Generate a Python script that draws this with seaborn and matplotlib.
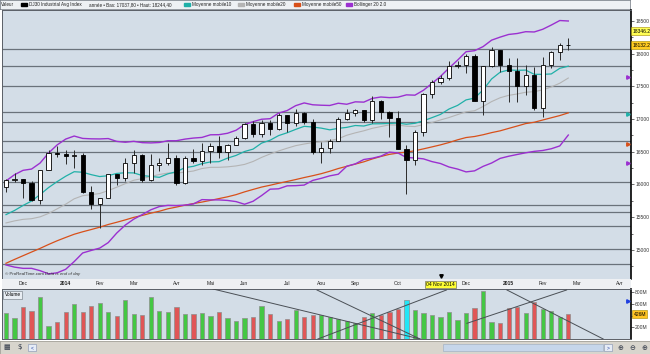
import matplotlib
matplotlib.use("Agg")
import numpy as np
import pandas as pd
import matplotlib.pyplot as plt
import matplotlib.patches as mpatches
import matplotlib.transforms as mtrans
import seaborn as sns

plt.rcParams['font.family'] = ['Liberation Sans', 'DejaVu Sans']

# closes des semaines avant la fenetre (pour les moyennes mobiles)
history_close = [13025.6, 13155.1, 13135.0, 13190.8, 12938.1,
                 13435.2, 13488.4, 13649.7, 13896.0,
                 14009.8, 13993.0, 13981.8, 14000.6,
                 14089.7, 14397.1, 14514.1, 14512.0, 14578.5,
                 14565.3, 14865.1, 14547.5, 14712.6,
                 14974.0, 15118.5, 15354.4, 15303.1, 15115.6,
                 15248.1, 15070.2, 14799.4, 14909.6,
                 15135.8, 15464.3, 15543.7, 15558.8,
                 15658.4, 15425.5, 15081.5, 15010.5, 14810.3,
                 14922.5, 15376.1, 15451.1, 15258.2,
                 15072.6, 15237.1, 15399.7, 15570.3,
                 15615.6, 15761.8, 15961.7]

# DJ30 hebdo, semaine du 18 nov 2013 au 23 fev 2015
first_week = '2013-11-18'
opens = [15961.7, 16064.8, 16086.4, 16020.2, 15755.4, 16221.1, 16478.4, 16470.0, 16437.1, 16458.6,
         15879.1, 15698.9, 15794.1, 16154.4, 16103.3, 16321.7, 16452.7, 16065.7, 16302.8, 16323.1,
         16412.7, 16026.8, 16408.5, 16361.5, 16512.9, 16583.3, 16491.3, 16606.3, 16717.2, 16924.3,
         16775.7, 16947.1, 16851.8, 17068.3, 16943.8, 17100.2, 16960.6, 16493.4, 16553.9, 16662.9,
         17001.2, 17098.5, 17137.4, 16987.5, 17279.7, 17113.2, 17009.7, 16544.1, 16380.4, 16805.4,
         17390.5, 17573.9, 17634.7, 17810.1, 17828.2, 17958.8, 17280.8, 17804.8, 18053.7, 17833.0,
         17737.4, 17511.6, 17672.6, 17165.0, 17824.3, 18019.4, 18140.4]
highs = [16080, 16174, 16087, 16050, 16226, 16530, 16588, 16530, 16530, 16484,
         15983, 15800, 16160, 16160, 16400, 16530, 16460, 16460, 16400, 16631,
         16450, 16430, 16540, 16630, 16630, 16735, 16620, 16735, 16940, 16970,
         16980, 16980, 17090, 17070, 17151, 17110, 17000, 16650, 16700, 17030,
         17150, 17160, 17140, 17350, 17290, 17130, 17130, 16600, 16830, 17400,
         17600, 17680, 17895, 17890, 17991, 17990, 17810, 18103, 18060, 17930,
         17930, 17830, 17800, 17950, 18040, 18170, 18244]
lows = [15880, 16036, 15800, 15740, 15703, 16220, 16416, 16314, 16250, 15870,
        15631, 15340, 15790, 15990, 16060, 16180, 16040, 16060, 16210, 16300,
        15990, 16015, 16330, 16300, 16330, 16410, 16370, 16600, 16700, 16730,
        16730, 16750, 16830, 16800, 16900, 16920, 16460, 16333, 16480, 16660,
        16990, 17050, 16950, 16940, 17000, 16730, 16540, 15855, 16300, 16740,
        17330, 17530, 17600, 17780, 17700, 17270, 17068, 17800, 17720, 17262,
        17265, 17370, 17140, 17038, 17780, 17910, 18060]
closes = [16064.8, 16086.4, 16020.2, 15755.4, 16221.1, 16478.4, 16470.0, 16437.1, 16458.6, 15879.1,
          15698.9, 15794.1, 16154.4, 16103.3, 16321.7, 16452.7, 16065.7, 16302.8, 16323.1, 16412.7,
          16026.8, 16408.5, 16361.5, 16512.9, 16583.3, 16491.3, 16606.3, 16717.2, 16924.3, 16775.7,
          16947.1, 16851.8, 17068.3, 16943.8, 17100.2, 16960.6, 16493.4, 16553.9, 16662.9, 17001.2,
          17098.5, 17137.4, 16987.5, 17279.7, 17113.2, 17009.7, 16544.1, 16380.4, 16805.4, 17390.5,
          17573.9, 17634.7, 17810.1, 17828.2, 17958.8, 17280.8, 17804.8, 18053.7, 17833.0, 17737.4,
          17511.6, 17672.6, 17165.0, 17824.3, 18019.4, 18140.4, 18132.7]
volumes = [439, 353, 553, 479, 724, 222, 296, 456, 598, 456,
           564, 610, 456, 393, 667, 433, 410, 712, 484, 461,
           547, 433, 427, 444, 398, 456, 364, 313, 353, 376,
           558, 433, 308, 342, 501, 370, 416, 404, 376, 336,
           313, 279, 370, 450, 410, 467, 507, 667, 496, 439,
           410, 370, 467, 325, 439, 535, 826, 296, 279, 524,
           553, 450, 638, 513, 479, 382, 426]
highlight_week = '2014-10-13'

# niveaux horizontaux traces sur le graphique
levels = [18067, 17812, 17506, 17108, 16955, 16670, 16502, 16034, 15687, 15575, 15365, 15009, 14785]

# lignes de tendance du panneau volume (semaine, volume M)
vol_lines = [(24.3, 855, 48.6, 0), (36.5, 838, 48.6, 0), (36.6, 0, 51.7, 838),
             (58.8, 838, 70.1, 0), (54.1, 268, 65.8, 838)]

tick_dates = ['2013-12-02', '2014-01-06', '2014-02-03', '2014-03-03', '2014-04-07', '2014-05-05',
              '2014-06-02', '2014-07-07', '2014-08-04', '2014-09-01', '2014-10-06', '2014-12-01',
              '2015-01-05', '2015-02-02', '2015-03-02', '2015-04-06']
tick_labels = ['Dec', '2014', 'Fev', 'Mar', 'Avr', 'Mai', 'Jun', 'Jul', 'Aou', 'Sep', 'Oct',
               'Dec', '2015', 'Fev', 'Mar', 'Avr']
cursor_date = '2014-11-10'
cursor_text = '04 Nov 2014'
cursor_marks = [(17650, '#9b30d0'), (17077, '#20b0a8'), (16620, '#d8501a'), (16330, '#9b30d0')]
last_labels = [(18346.2, '18346.2', '#ffff55'), (18132.2, '18132.2', '#ffcc22')]

# --- calculs
df = pd.DataFrame({'open': opens, 'high': highs, 'low': lows, 'close': closes, 'vol': volumes})
df['date'] = pd.date_range(first_week, periods=len(df), freq='W-MON')
df['i'] = np.arange(len(df))
start = df['date'].iloc[0]
def widx(d):
    return (pd.Timestamp(d) - start).days / 7

allc = pd.Series(history_close + closes)
n = len(df)
df['ma10'] = allc.rolling(10).mean().values[-n:]
df['ma20'] = allc.rolling(20).mean().values[-n:]
df['ma50'] = allc.rolling(50).mean().values[-n:]
sd20 = allc.rolling(20).std(ddof=0).values[-n:]
df['bbu'] = df['ma20'] + 2 * sd20
df['bbl'] = df['ma20'] - 2 * sd20

up = df['close'] >= df['open']
df['kind'] = np.where(up, 'up', 'down')
df.loc[df['date'] == pd.Timestamp(highlight_week), 'kind'] = 'cur'

# --- figure
W, H = 650, 354
fig = plt.figure(figsize=(6.5, 3.54), dpi=100)
fig.patch.set_facecolor('white')
def box(x0, y0, x1, y1):
    return [x0 / W, 1 - y1 / H, (x1 - x0) / W, (y1 - y0) / H]

ax_leg = fig.add_axes(box(0, 0, 630, 9))
ax = fig.add_axes(box(2, 10, 631, 279))
ax_date = fig.add_axes(box(2, 279, 631, 289))
ax_vol = fig.add_axes(box(2, 289, 631, 339))
ax_tb = fig.add_axes(box(0, 341, 650, 354))

XL = (-0.47, 73.36)
bg = '#d3dde7'
fs = 3.6

# main price panel
ax.set_facecolor(bg)
for lv in levels:
    ax.axhline(lv, color='#6a727b', lw=0.9, zorder=1)
sns.lineplot(x=df['i'], y=df['ma50'], ax=ax, color='#d8501a', lw=0.9, zorder=2)
sns.lineplot(x=df['i'], y=df['ma20'], ax=ax, color='#b4b4b4', lw=0.8, zorder=2)
sns.lineplot(x=df['i'], y=df['bbu'], ax=ax, color='#9b30d0', lw=1.0, zorder=2)
sns.lineplot(x=df['i'], y=df['bbl'], ax=ax, color='#9b30d0', lw=1.0, zorder=2)
sns.lineplot(x=df['i'], y=df['ma10'], ax=ax, color='#20b0a8', lw=0.9, zorder=2)
ax.vlines(df['i'], df['low'], df['high'], color='#2a2a2a', lw=0.7, zorder=3)
body_lo = np.minimum(df['open'], df['close'])
body_h = np.maximum(np.abs(df['close'] - df['open']), 6)
ax.bar(df['i'], body_h, bottom=body_lo, width=0.5,
       color=np.where(up, 'white', 'black'), edgecolor='black', lw=0.6, zorder=4)
ax.set_xlim(XL)
ax.set_ylim(14555, 18668)
ax.set_xlabel('')
ax.set_ylabel('')
ax.set_xticks([])
ax.yaxis.tick_right()
ax.set_yticks(np.arange(15000, 18501, 500))
ax.set_yticks(np.arange(14750, 18700, 250), minor=True)
ax.set_yticklabels([str(v) for v in range(15000, 18501, 500)])
ax.tick_params(axis='y', which='major', labelsize=fs, length=2, width=0.5, pad=1, colors='#333333')
ax.tick_params(axis='y', which='minor', length=1.2, width=0.5, colors='#333333')
for s in ['left', 'top', 'bottom']:
    ax.spines[s].set_color('#5a5f66')
    ax.spines[s].set_linewidth(0.7)
ax.spines['right'].set_color('black')
ax.spines['right'].set_linewidth(1.2)
ax.text(0.004, 0.012, '\u00a9 ProRealTime.com', transform=ax.transAxes, fontsize=3.2, color='#333333',
        ha='left', va='bottom')
ax.text(0.068, 0.012, 'Data is end of day', transform=ax.transAxes, fontsize=3.2, color='#333333',
        ha='left', va='bottom', style='italic')
tr = mtrans.blended_transform_factory(ax.transAxes, ax.transData)
for val, txt, col in last_labels:
    ax.text(1.002, val, txt, transform=tr, fontsize=fs, ha='left', va='center', clip_on=False,
            bbox=dict(boxstyle='square,pad=0.25', fc=col, ec='#a08a00', lw=0.4))
for val, col in cursor_marks:
    ax.plot([0.996], [val], transform=tr, marker='>', ms=2.5, color=col, clip_on=False, zorder=6)
ci = widx(cursor_date)
ax.plot([ci], [14600], marker='v', ms=2.5, color='black', zorder=6)

# date strip
ax_date.set_facecolor('#eef0f3')
ax_date.set_xlim(XL)
ax_date.set_ylim(0, 1)
ax_date.set_yticks([])
ax_date.set_xticks([widx(d) for d in tick_dates])
ax_date.set_xticklabels(tick_labels)
for lab in ax_date.get_xticklabels():
    if lab.get_text() in ('2014', '2015'):
        lab.set_fontweight('bold')
ax_date.tick_params(axis='x', length=0, pad=-5.6, labelsize=fs, colors='#222222')
for s in ax_date.spines.values():
    s.set_visible(False)
ax_date.text(ci, 0.5, cursor_text, fontsize=fs, ha='center', va='center',
             bbox=dict(boxstyle='square,pad=0.2', fc='#ffff33', ec='#555555', lw=0.4))

# volume panel
ax_vol.set_facecolor(bg)
sns.barplot(data=df, x='i', y='vol', hue='kind', native_scale=True, dodge=False, width=0.5,
            palette={'up': '#44c744', 'down': '#e05656', 'cur': '#22e6f6'}, saturation=1,
            errorbar=None, legend=False, edgecolor='#8e8e8e', linewidth=0.5, ax=ax_vol, zorder=2)
for x0, y0, x1, y1 in vol_lines:
    ax_vol.plot([x0, x1], [y0, y1], color='#4a4f55', lw=0.7, zorder=3)
ax_vol.set_xlim(XL)
ax_vol.set_ylim(0, 855)
ax_vol.set_xlabel('')
ax_vol.set_ylabel('')
ax_vol.set_xticks([])
ax_vol.yaxis.tick_right()
ax_vol.set_yticks([200, 400, 600, 800])
ax_vol.set_yticklabels(['200M', '', '600M', '800M'])
ax_vol.tick_params(axis='y', labelsize=fs, length=2, width=0.5, pad=1, colors='#333333')
for s in ['left', 'top', 'bottom']:
    ax_vol.spines[s].set_color('#5a5f66')
    ax_vol.spines[s].set_linewidth(0.7)
ax_vol.spines['right'].set_color('black')
ax_vol.spines['right'].set_linewidth(1.2)
trv = mtrans.blended_transform_factory(ax_vol.transAxes, ax_vol.transData)
ax_vol.text(1.004, volumes[-1], '%dM' % volumes[-1], transform=trv, fontsize=fs, ha='left', va='center',
            clip_on=False, bbox=dict(boxstyle='square,pad=0.25', fc='#ffc422', ec='#a08a00', lw=0.4))
ax_vol.plot([0.996], [650], transform=trv, marker='>', ms=2.5, color='#2040e0', clip_on=False, zorder=6)
ax_vol.text(0.004, 0.93, 'Volume', transform=ax_vol.transAxes, fontsize=3.4, ha='left', va='top',
            bbox=dict(boxstyle='square,pad=0.3', fc='#e8edf3', ec='#6a727b', lw=0.4))

# legend strip
ax_leg.set_xlim(0, 630)
ax_leg.set_ylim(0, 1)
ax_leg.set_facecolor('#eef1f4')
ax_leg.set_xticks([])
ax_leg.set_yticks([])
for s in ax_leg.spines.values():
    s.set_color('#6a727b')
    s.set_linewidth(0.5)
leg_items = [(1, None, 'Valeur'), (21, 'black', 'DJ30 Industrial Avg Index'),
             (89, None, 'ann\u00e9e \u2022 Bas: 17037,80 \u2022 Haut: 18244,40'),
             (184, '#20b0a8', 'Moyenne mobile10'), (238, '#b4b4b4', 'Moyenne mobile20'),
             (294, '#d8501a', 'Moyenne mobile50'), (346, '#9b30d0', 'Bollinger 20 2.0')]
for x, col, txt in leg_items:
    if col is not None:
        ax_leg.add_patch(mpatches.Rectangle((x, 0.38), 6, 0.26, color=col))
        x = x + 8
    ax_leg.text(x, 0.5, txt, fontsize=3.3, ha='left', va='center', color='#222222')

# barre d'outils
ax_tb.set_xlim(0, 650)
ax_tb.set_ylim(0, 1)
ax_tb.set_facecolor('#d8d5cd')
ax_tb.set_xticks([])
ax_tb.set_yticks([])
for s in ax_tb.spines.values():
    s.set_color('#9a9890')
    s.set_linewidth(0.5)
ax_tb.add_patch(mpatches.Rectangle((443, 0.25), 160, 0.5, fc='#c6d6ea', ec='#9aaac0', lw=0.4))
ax_tb.add_patch(mpatches.Rectangle((604, 0.25), 8, 0.5, fc='#e6ecf6', ec='#8090b0', lw=0.4))
ax_tb.add_patch(mpatches.Rectangle((28, 0.25), 8, 0.5, fc='#e6ecf6', ec='#8090b0', lw=0.4))
ax_tb.text(608, 0.5, '>', fontsize=3.5, ha='center', va='center', color='#2040a0')
ax_tb.text(32, 0.5, '<', fontsize=3.5, ha='center', va='center', color='#2040a0')
for x, g in [(7, '\u25a6'), (20, '$'), (620, '\u2295'), (632, '\u2296'), (644, '\u2295')]:
    ax_tb.text(x, 0.5, g, fontsize=5, ha='center', va='center', color='#303848', family='DejaVu Sans')

fig.savefig('out.png', dpi=100, facecolor='white')
